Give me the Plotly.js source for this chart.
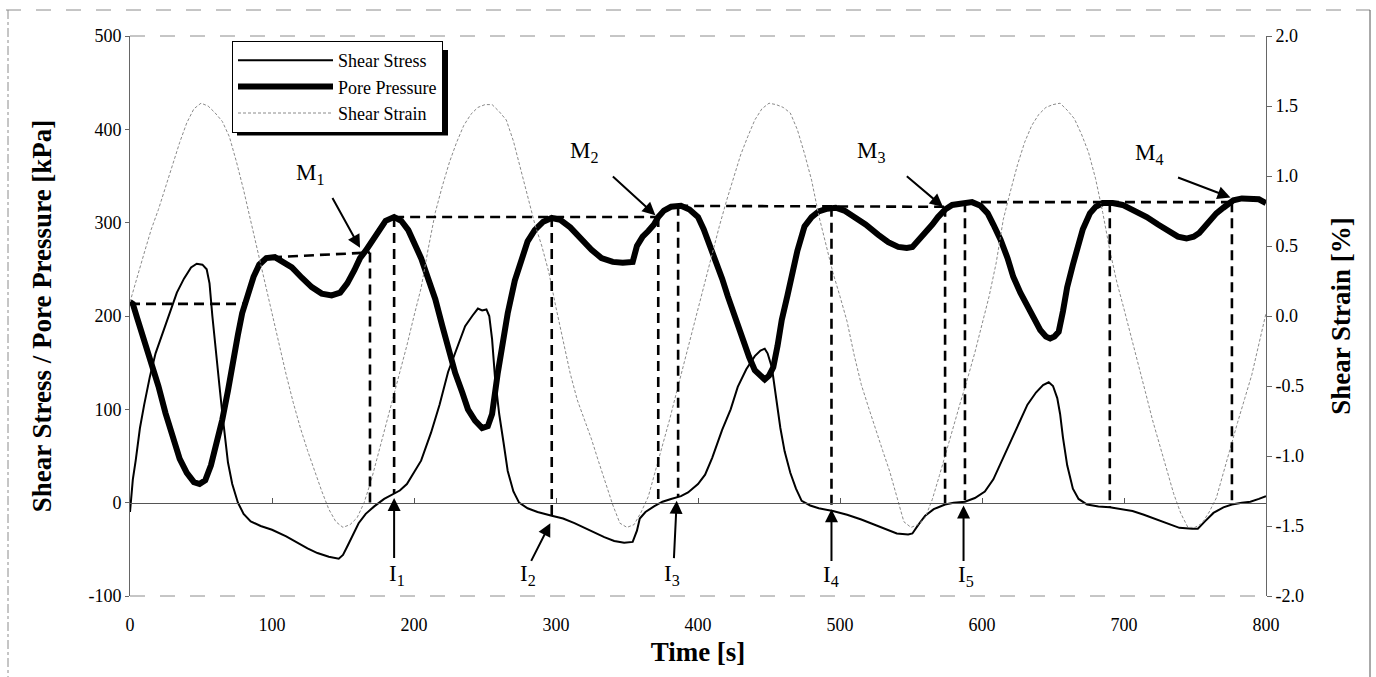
<!DOCTYPE html>
<html>
<head>
<meta charset="utf-8">
<script src="https://cdn.plot.ly/plotly-3.0.1.min.js"></script>
<style>
  html, body { margin: 0; padding: 0; background: #ffffff; }
  #chart { width: 1376px; height: 677px; }
</style>
</head>
<body>
<div id="chart"></div>
<script>
// ---------------- data ----------------
const timeStress = [0,2,4,7,10,14,18,23,28,33,38,43,47,51,54,56,58,60,63,65,67,69,72,76,80,85,92,100,110,118,125,132,140,147,150,153,157,161,166,172,179,186,190,195,200,205,212,218,224,230,236,241,245,248,251,253,255,257,260,263,266,270,274,280,287,297,305,313,320,327,334,341,348,354,357,359,363,369,375,381,388,393,400,405,410,417,423,428,434,440,444,447,449,452,455,458,461,465,469,473,479,485,495,505,515,525,533,540,548,551,555,560,566,574,580,588,595,602,608,614,620,626,632,638,643,647,650,653,655,657,660,664,668,674,682,690,698,706,714,723,731,739,748,752,757,763,770,776,783,789,795,800];
const shearStress = [-10,25,45,80,105,135,160,182,205,225,240,252,256,255,250,235,200,167,125,96,70,43,20,0,-12,-20,-25,-29,-36,-43,-49,-54,-58,-60,-56,-47,-35,-22,-12,-4,4,10,13,20,32,45,75,105,140,165,189,200,208,206,207,200,175,135,95,65,34,12,0,-6,-10,-14,-17,-22,-27,-32,-37,-41,-43,-42,-30,-17,-10,-4,1,4,7,11,20,30,48,78,100,124,143,157,163,165,160,145,110,80,55,32,15,2,-3,-6,-9,-13,-18,-24,-29,-33,-34,-33,-24,-14,-7,-2,0,1,5,12,25,45,65,85,105,118,126,129,125,112,95,70,40,15,4,-2,-4,-5,-7,-9,-13,-18,-22,-27,-28,-28,-20,-11,-5,-2,0,1,4,7];

const timePore = [0,2,5,10,15,20,25,30,35,40,45,49,53,57,61,65,69,72,76,79,83,87,91,96,102,108,114,121,128,135,142,148,153,158,162,166,170,175,180,186,191,196,200,205,210,215,220,225,229,234,238,243,248,252,255,259,262,266,271,276,280,285,291,297,303,310,318,325,332,340,347,354,357,361,365,369,372,376,381,388,394,400,404,408,412,417,421,426,431,436,440,444,447,450,453,456,459,463,466,470,475,480,485,491,497,503,510,518,527,534,541,547,551,556,560,565,569,574,579,586,593,599,604,608,613,618,622,627,632,637,641,645,648,651,654,657,660,664,667,671,676,680,685,692,699,707,716,724,732,738,744,749,753,757,761,765,770,777,783,789,795,800];
const porePressure = [215,213,198,175,152,125,96,70,47,32,22,20,24,40,62,89,120,150,180,203,225,242,255,262,263,258,252,241,231,224,222,225,235,249,262,270,280,292,302,306,302,292,280,262,240,218,189,160,139,118,100,88,80,82,95,139,170,203,238,263,280,292,301,305,303,295,282,271,262,258,257,258,275,285,291,298,306,313,317,318,314,306,293,278,263,240,221,198,175,156,142,135,132,136,145,168,196,222,246,270,296,306,312,315,316,313,306,298,287,279,274,273,274,282,289,298,306,314,319,321,322,318,310,298,282,262,242,225,210,195,185,178,176,178,183,205,231,255,274,293,310,317,321,321,319,313,306,298,290,285,283,285,289,296,303,310,316,324,326,326,325,321];

const timeStrain = [0,5,10,15,20,25,30,35,40,45,50,55,60,65,70,75,80,85,90,95,100,105,110,115,120,125,130,135,140,145,150,155,160,165,170,175,180,185,190,195,200,205,210,215,220,225,230,235,240,245,250,255,260,265,270,275,280,285,290,295,300,305,310,315,320,325,330,335,340,345,350,355,360,365,370,375,380,385,390,395,400,405,410,415,420,425,430,435,440,445,450,455,460,465,470,475,480,485,490,495,500,505,510,515,520,525,530,535,540,545,550,555,560,565,570,575,580,585,590,595,600,605,610,615,620,625,630,635,640,645,650,655,660,665,670,675,680,685,690,695,700,705,710,715,720,725,730,735,740,745,750,755,760,765,770,775,780,785,790,795,800];
const shearStrain = [0.10,0.28,0.45,0.62,0.76,0.92,1.08,1.24,1.38,1.48,1.52,1.50,1.45,1.39,1.28,1.10,0.90,0.68,0.45,0.23,0.02,-0.20,-0.42,-0.62,-0.80,-0.96,-1.11,-1.25,-1.38,-1.47,-1.51,-1.49,-1.44,-1.33,-1.17,-0.98,-0.78,-0.58,-0.40,-0.21,0.00,0.20,0.48,0.74,0.93,1.10,1.24,1.36,1.44,1.49,1.51,1.51,1.46,1.40,1.25,1.06,0.86,0.66,0.50,0.31,0.06,-0.18,-0.41,-0.60,-0.74,-0.88,-1.04,-1.19,-1.35,-1.48,-1.51,-1.49,-1.40,-1.29,-1.11,-0.93,-0.74,-0.54,-0.34,-0.16,0.06,0.26,0.45,0.64,0.82,0.99,1.15,1.28,1.40,1.48,1.52,1.51,1.49,1.45,1.33,1.16,0.97,0.72,0.52,0.31,0.14,-0.04,-0.28,-0.49,-0.65,-0.81,-0.96,-1.11,-1.30,-1.47,-1.51,-1.49,-1.44,-1.31,-1.14,-0.96,-0.78,-0.61,-0.44,-0.26,-0.06,0.14,0.38,0.69,0.89,1.08,1.24,1.36,1.44,1.49,1.51,1.52,1.47,1.41,1.30,1.17,0.98,0.74,0.47,0.24,0.05,-0.14,-0.34,-0.54,-0.74,-0.92,-1.10,-1.27,-1.41,-1.51,-1.51,-1.48,-1.40,-1.30,-1.12,-0.93,-0.76,-0.59,-0.42,-0.20,0.02];

// dashed construction lines (horizontal levels and vertical drops)
const hLineStartTime  = [0, 100, 186, 386, 588];
const hLineEndTime    = [80, 169, 372, 574, 776];
const hLineStartLevel = [213, 263, 306, 318, 322];
const hLineEndLevel   = [213, 268, 306, 317, 322];
const vLineTime   = [169, 186, 297, 372, 386, 494, 574, 588, 690, 776];
const vLineTop    = [268, 306, 306, 306, 318, 317, 317, 322, 322, 322];
const vLineBottom = [-6, 10, -14, -1, 6, -9, -2, 1, -5, -2];

// point labels and arrows
const pointLabels = ['M<sub>1</sub>','M<sub>2</sub>','M<sub>3</sub>','M<sub>4</sub>','I<sub>1</sub>','I<sub>2</sub>','I<sub>3</sub>','I<sub>4</sub>','I<sub>5</sub>'];
const labelTime   = [127, 320, 522, 718, 188, 280, 382, 494, 589];
const labelLevel  = [352, 376, 376, 374, -77, -78, -78, -79, -79];
const arrowTailTime  = [142, 339, 546, 737, 186, 282, 383, 494, 587];
const arrowTailLevel = [328, 351, 351, 349, -61, -64, -61, -64, -64];
const arrowHeadTime  = [162, 370, 572.5, 775, 186, 296, 385, 494, 587];
const arrowHeadLevel = [273, 308, 317, 327, 5, -22, 2, -7, -3];

const xTicks = [0,100,200,300,400,500,600,700,800];
const yLeftTicks = [-100,0,100,200,300,400,500];
const yRightTicks = [-2.0,-1.5,-1.0,-0.5,0.0,0.5,1.0,1.5,2.0];

// ---------------- build traces ----------------
const serif = '"Liberation Serif", "Times New Roman", serif';
const cx = [], cy = [];
for (let i = 0; i < hLineStartTime.length; i++) {
  cx.push(hLineStartTime[i], hLineEndTime[i], null);
  cy.push(hLineStartLevel[i], hLineEndLevel[i], null);
}
for (let i = 0; i < vLineTime.length; i++) {
  cx.push(vLineTime[i], vLineTime[i], null);
  cy.push(vLineTop[i], vLineBottom[i], null);
}

const traces = [
  { x: cx, y: cy, xaxis: 'x2', yaxis: 'y', mode: 'lines', showlegend: false, hoverinfo: 'skip',
    line: { color: '#000', width: 2.6, dash: '10px,6px' } },
  { name: 'Shear Stress', x: timeStress, y: shearStress, mode: 'lines',
    line: { color: '#000', width: 2 } },
  { name: 'Pore Pressure', x: timePore, y: porePressure, mode: 'lines',
    line: { color: '#000', width: 6 } },
  { name: 'Shear Strain', x: timeStrain, y: shearStrain, yaxis: 'y2', mode: 'lines',
    line: { color: '#8a8a8a', width: 1, dash: '3px,2px' } }
];

const annotations = [];
for (let i = 0; i < pointLabels.length; i++) {
  annotations.push({ x: arrowHeadTime[i], y: arrowHeadLevel[i], ax: arrowTailTime[i], ay: arrowTailLevel[i],
    xref: 'x', yref: 'y', axref: 'x', ayref: 'y', text: '', showarrow: true,
    arrowhead: 2, arrowsize: 1.3, arrowwidth: 2, arrowcolor: '#000' });
  annotations.push({ x: labelTime[i], y: labelLevel[i], xref: 'x', yref: 'y', text: pointLabels[i],
    showarrow: false, font: { family: serif, size: 23, color: '#000' } });
}

// page coordinate helpers (plot area 130..1266 x, 36..596 y)
function px(p) { return (p - 130) / 1136; }
function py(p) { return (596 - p) / 560; }

const shapes = [
  // plot frame top / bottom (scanned dashed look)
  { type: 'line', xref: 'paper', yref: 'paper', x0: 0, x1: 1, y0: 1, y1: 1, line: { color: '#8c8c8c', width: 1, dash: 'longdash' } },
  { type: 'line', xref: 'paper', yref: 'paper', x0: 0, x1: 1, y0: 0, y1: 0, line: { color: '#8c8c8c', width: 1, dash: 'longdash' } },
  // outer page frame
  { type: 'line', xref: 'paper', yref: 'paper', x0: px(6), x1: px(1370), y0: py(10), y1: py(10), line: { color: '#8c8c8c', width: 1, dash: 'longdash' } },
  { type: 'line', xref: 'paper', yref: 'paper', x0: px(8), x1: px(8), y0: py(10), y1: py(677), line: { color: '#8c8c8c', width: 1, dash: 'dashdot' } },
  { type: 'line', xref: 'paper', yref: 'paper', x0: px(1370), x1: px(1370), y0: py(10), y1: py(677), line: { color: '#555', width: 1 } },
  // legend shadow
  { type: 'line', xref: 'paper', yref: 'paper', x0: px(237), x1: px(448), y0: py(133), y1: py(133), line: { color: '#000', width: 5 } },
  { type: 'line', xref: 'paper', yref: 'paper', x0: px(445.5), x1: px(445.5), y0: py(50), y1: py(135), line: { color: '#000', width: 5 } }
];

const tickFont = { family: serif, size: 18, color: '#000' };
const titleFont = { family: serif, size: 27, color: '#000', weight: 'bold' };

const layout = {
  width: 1376, height: 677,
  margin: { l: 130, r: 110, t: 36, b: 81, pad: 0 },
  paper_bgcolor: '#fff', plot_bgcolor: '#fff',
  showlegend: true,
  legend: { x: px(232), y: py(41), xanchor: 'left', yanchor: 'top',
    bgcolor: '#fff', bordercolor: '#000', borderwidth: 1, itemwidth: 95,
    font: { family: serif, size: 18, color: '#000' }, traceorder: 'normal' },
  xaxis: { range: [0, 800], tickvals: xTicks, ticktext: xTicks.map(String), showgrid: false, zeroline: false,
    showline: false, ticks: '', tickfont: tickFont, ticklabelstandoff: 16, automargin: false,
    title: { text: 'Time [s]', font: titleFont, standoff: 8 } },
  xaxis2: { overlaying: 'x', anchor: 'free', position: 1 / 6, range: [0, 800], tickvals: xTicks,
    showgrid: false, zeroline: false, showline: true, linecolor: '#555', linewidth: 1,
    ticks: 'inside', ticklen: 5, tickcolor: '#555', showticklabels: false },
  yaxis: { range: [-100, 500], tickvals: yLeftTicks, ticktext: yLeftTicks.map(String), showgrid: false, zeroline: false,
    showline: true, linecolor: '#666', linewidth: 1, ticks: 'outside', ticklen: 4, tickcolor: '#666',
    tickfont: tickFont, automargin: false,
    title: { text: 'Shear Stress / Pore Pressure [kPa]', font: titleFont, standoff: 28 } },
  yaxis2: { overlaying: 'y', side: 'right', anchor: 'x', range: [-2, 2], tickvals: yRightTicks,
    ticktext: yRightTicks.map(v => v.toFixed(1)), showgrid: false, zeroline: false,
    showline: true, linecolor: '#666', linewidth: 1, ticks: 'outside', ticklen: 5, tickcolor: '#666',
    tickfont: tickFont, automargin: false,
    title: { text: 'Shear Strain [%]', font: titleFont, standoff: 28 } },
  annotations: annotations,
  shapes: shapes
};

Plotly.newPlot('chart', traces, layout, { staticPlot: true, displayModeBar: false });
</script>
</body>
</html>
